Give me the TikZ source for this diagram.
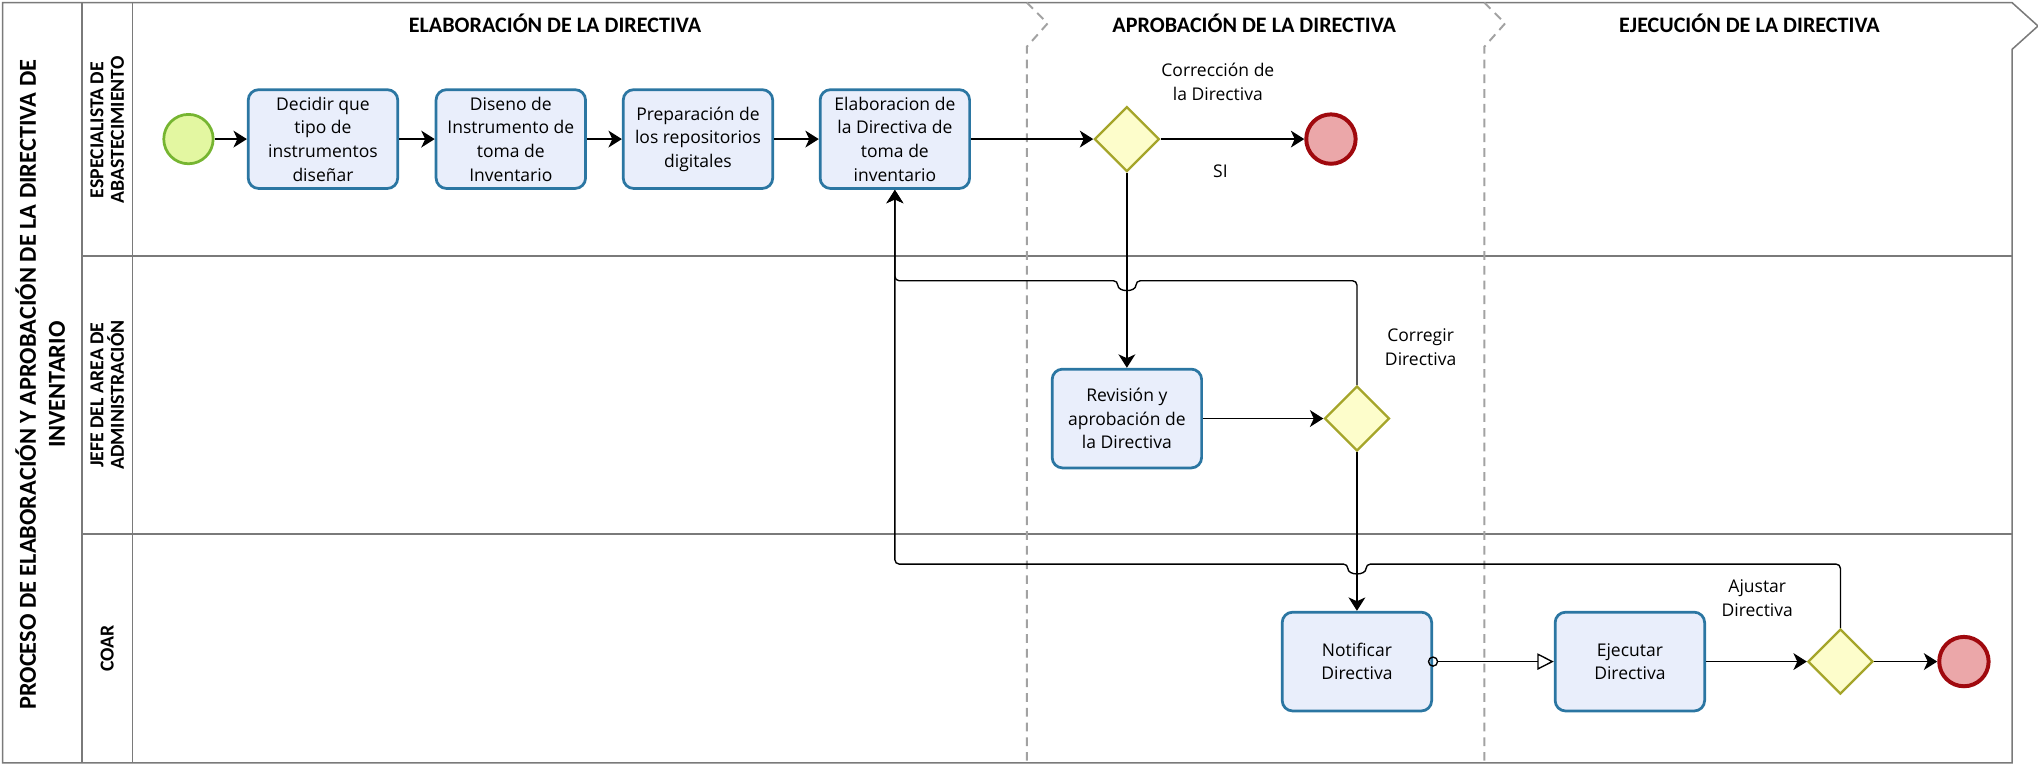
\documentclass[tikz,border=0pt]{standalone}
\usepackage{fontspec}
\setmainfont{Open Sans}
\newfontfamily\calib{Carlito}
\usetikzlibrary{arrows.meta,shapes.geometric}

\definecolor{taskfill}{HTML}{E9EEFB}
\definecolor{taskline}{HTML}{2B76A2}
\definecolor{gatefill}{HTML}{FDFDCB}
\definecolor{gateline}{HTML}{A5A52A}
\definecolor{startfill}{HTML}{E3F7A1}
\definecolor{startline}{HTML}{76B531}
\definecolor{endfill}{HTML}{EBA7A9}
\definecolor{endline}{HTML}{A0090E}
\definecolor{poolline}{HTML}{7A7A7A}

\begin{document}
\begin{tikzpicture}[x=0.3mm,y=-0.3mm,
      >={Stealth[length=3.1mm,width=3.9mm,inset=0.9mm]},
      font=\fontsize{11.5}{15.5}\selectfont,
      task/.style={rectangle,rounded corners=2.4mm,draw=taskline,fill=taskfill,
        line width=1.8pt,minimum width=34.5mm,minimum height=22.8mm,align=center,inner sep=1pt},
      gate/.style={diamond,draw=gateline,fill=gatefill,line width=1.5pt,
        minimum width=15mm,minimum height=15mm,inner sep=0pt},
      startev/.style={circle,draw=startline,fill=startfill,line width=1.8pt,minimum size=11.4mm,inner sep=0pt},
      endev/.style={circle,draw=endline,fill=endfill,line width=2.6pt,minimum size=11.4mm,inner sep=0pt},
      flow/.style={->,line width=0.9pt},
      msg/.style={{Circle[open,length=2.4mm]}-{Triangle[open,length=3.8mm,width=3.8mm]},
        line width=0.9pt,shorten <=-1.2mm},
      pool/.style={draw=poolline,line width=1pt},
      phase/.style={draw=poolline!70,line width=1.3pt,dash pattern=on 2mm off 1.4mm},
      hdr/.style={font=\calib\bfseries\fontsize{14.5}{16}\selectfont},
      lane/.style={rotate=90,align=center,font=\calib\bfseries\fontsize{13}{13.5}\selectfont},
      lbl/.style={align=center}]
      \useasboundingbox (0,0) rectangle (1568,589);

      % pool and lanes
      \draw[pool] (2,2) -- (1548,2) -- (1568,20) -- (1548,38) -- (1548,587) -- (2,587) -- cycle;
      \draw[pool] (63,2) -- (63,587);
      \draw[pool] (102,2) -- (102,587);
      \draw[pool,line width=1.3pt] (63,197) -- (1548,197);
      \draw[pool,line width=1.3pt] (63,411) -- (1548,411);

      % phases
      \draw[phase] (790,2) -- (806,18) -- (790,36) -- (790,587);
      \draw[phase] (1142,2) -- (1158,18) -- (1142,36) -- (1142,587);

      \node[hdr] (h1) at ( 427, 18) {ELABORACIÓN DE LA DIRECTIVA};
      \node[hdr] (h2) at ( 965, 18) {APROBACIÓN DE LA DIRECTIVA};
      \node[hdr] (h3) at (1346, 18) {EJECUCIÓN DE LA DIRECTIVA};

      \node[lane,font=\calib\bfseries\fontsize{16}{19}\selectfont] (pt) at (31,296)
        {PROCESO DE ELABORACIÓN Y APROBACIÓN DE LA DIRECTIVA DE\\INVENTARIO};
      \node[lane] (l1) at (82.5,100) {ESPECIALISTA DE\\ABASTECIMIENTO};
      \node[lane] (l2) at (82.5,304) {JEFE DEL AREA DE\\ADMINISTRACIÓN};
      \node[lane] (l3) at (82.5,499) {COAR};

      % especialista
      \node[startev] (st) at ( 145,107) {};
      \node[task]    (t1) at (248.5,107) {Decidir que\\tipo de\\instrumentos\\diseñar};
      \node[task]    (t2) at ( 393,107) {Diseno de\\Instrumento de\\toma de\\Inventario};
      \node[task]    (t3) at ( 537,107) {Preparación de\\los repositorios\\digitales};
      \node[task]    (t4) at (688.5,107) {Elaboracion de\\la Directiva de\\toma de\\inventario};
      \node[gate]    (g1) at ( 867,107) {};
      \node[endev]   (e1) at (1024,107) {};

      % jefe
      \node[task]    (t5) at ( 867,322) {Revisión y\\aprobación de\\la Directiva};
      \node[gate]    (g2) at (1044,322) {};

      % coar
      \node[task]    (t6) at (1044,509) {Notificar\\Directiva};
      \node[task]    (t7) at (1254,509) {Ejecutar\\Directiva};
      \node[gate]    (g3) at (1416,509) {};
      \node[endev]   (e2) at (1511,509) {};

      \node[lbl] (lc) at ( 937, 63) {Corrección de\\la Directiva};
      \node[lbl] (ls) at ( 939,132) {SI};
      \node[lbl] (lg) at (1093,267) {Corregir\\Directiva};
      \node[lbl] (la) at (1352,460) {Ajustar\\Directiva};

      \draw[flow] (st) -- (t1);
      \draw[flow] (t1) -- (t2);
      \draw[flow] (t2) -- (t3);
      \draw[flow] (t3) -- (t4);
      \draw[flow] (t4) -- (g1);
      \draw[flow] (g1) -- (e1);   % si
      \draw[flow] (g1) -- (t5);
      \draw[flow] (t5) -- (g2);
      \draw[flow] (g2) -- (t6);
      \draw[msg]  (t6) -- (t7);
      \draw[flow] (t7) -- (g3);
      \draw[flow] (g3) -- (e2);

      % back to t4, with jumps
      \draw[flow,rounded corners=1mm] (g2.north) |- (874,216)
        .. controls (874,225) and (860,225) .. (860,216) -| (t4.south);
      \draw[flow,rounded corners=1mm] (g3.north) |- (1051,434)
        .. controls (1051,443) and (1037,443) .. (1037,434) -| (t4.south);
\end{tikzpicture}
\end{document}
